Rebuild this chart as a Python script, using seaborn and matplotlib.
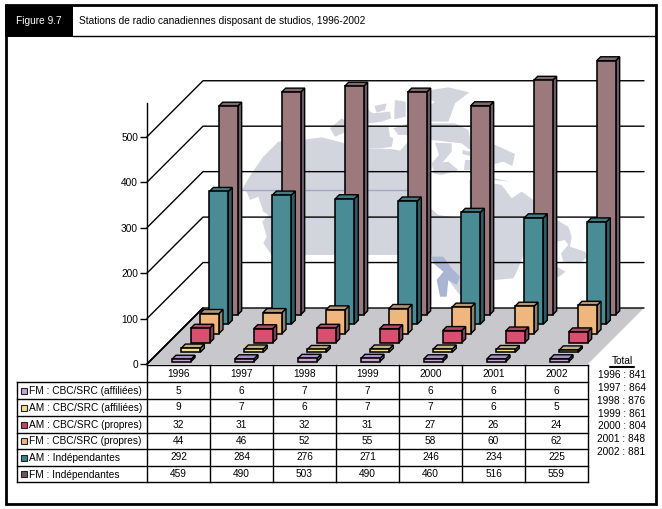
import matplotlib
matplotlib.use("Agg")
import matplotlib.pyplot as plt
from matplotlib.patches import Polygon, Rectangle
import numpy as np
import pandas as pd
import seaborn as sns

# ---------- data ----------
years = ["1996", "1997", "1998", "1999", "2000", "2001", "2002"]
fm_cbc_aff = [5, 6, 7, 7, 6, 6, 6]
am_cbc_aff = [9, 7, 6, 7, 7, 6, 5]
am_cbc_own = [32, 31, 32, 31, 27, 26, 24]
fm_cbc_own = [44, 46, 52, 55, 58, 60, 62]
am_ind = [292, 284, 276, 271, 246, 234, 225]
fm_ind = [459, 490, 503, 490, 460, 516, 559]
series_names = ["FM : CBC/SRC (affiliées)", "AM : CBC/SRC (affiliées)",
                "AM : CBC/SRC (propres)", "FM : CBC/SRC (propres)",
                "AM : Indépendantes", "FM : Indépendantes"]
series_values = [fm_cbc_aff, am_cbc_aff, am_cbc_own, fm_cbc_own, am_ind, fm_ind]
y_ticks = [0, 100, 200, 300, 400, 500]
fig_label = "Figure 9.7"
title = "Stations de radio canadiennes disposant de studios, 1996-2002"

# ---------- style ----------
front_cols = ["#C8A4D4", "#F6E08E", "#D94F70", "#EFB77E", "#4A8C96", "#9C797C"]
top_cols = ["#A88FC8", "#C4B27C", "#B04A64", "#B9966F", "#3F7C84", "#7E6A70"]
side_cols = ["#7A6A90", "#8A8050", "#7A3F58", "#8F7F70", "#2F5C66", "#6A5C64"]
key_cols = ["#C8A4D4", "#F6E08E", "#D0405F", "#EFB77E", "#3F8088", "#6E5A5E"]
sns.set_theme(style="white")
plt.rcParams["font.family"] = ["Liberation Sans", "DejaVu Sans"]
FS = 7.25
W, H = 662, 509
X0, Y0 = 147, 364      # origin of the value axis, pixels
COL = 63               # category column width
DEPTH = 56 / 6         # depth step per series (oblique at 45 degrees)
K = 0.4545             # pixels per value unit
BW, BD, INX, INY = 19, 4, 25, 2.5

fig = plt.figure(figsize=(W / 100, H / 100), dpi=100, facecolor="white")
bg = fig.add_axes([0, 0, 1, 1], zorder=0)
bg.set_xlim(0, W); bg.set_ylim(H, 0); bg.axis("off")
ax = fig.add_axes([0, 0, 1, 1], zorder=1)
ax.patch.set_alpha(0)

# ---------- frame ----------
bg.add_patch(Rectangle((5.5, 5), 650.5, 499, fc="white", ec="black", lw=2))
bg.add_patch(Rectangle((5, 4.5), 68, 32, fc="black", ec="black", lw=0))
bg.plot([73, 656], [36, 36], color="black", lw=1)
bg.text(16, 20.5, fig_label, color="white", fontsize=FS, va="center")
bg.text(79, 20.5, title, color="black", fontsize=FS, va="center")

# ---------- background map (decoration) ----------
MAP = "#D2D4DE"
def mp(pts, ox=235, oy=80):
    return [(x / 3 + ox, y / 3 + oy) for x, y in pts]
land = [
    [(20,330),(50,280),(85,230),(130,185),(200,180),(260,172),(330,190),(400,205),(475,208),(495,212),
     (525,180),(587,180),(587,385),(610,405),(680,415),(705,400),(703,300),(775,295),(775,310),(800,315),
     (830,355),(860,335),(930,385),(930,500),(870,515),(845,575),(835,595),(780,600),(740,590),(690,620),
     (682,655),(640,600),(640,570),(590,540),(590,525),(110,525),(85,490),(95,470),(82,425),(100,405),
     (85,395),(70,350),(45,360),(35,335)],
    [(285,145),(320,115),(335,125),(335,155),(300,170)],
    [(400,85),(405,95),(415,100),(465,95),(468,115),(440,125),(400,130)],
    [(418,78),(455,70),(450,90),(425,98)],
    [(480,60),(512,65),(512,110),(478,118),(478,90)],
    [(400,140),(460,140),(465,170),(475,175),(470,200),(440,205),(400,205)],
    [(475,145),(520,130),(520,165),(490,165)],
    [(587,30),(640,22),(703,37),(660,70),(640,125),(587,125),(587,75),(600,65),(587,60)],
    [(587,130),(660,130),(700,150),(712,205),(770,190),(840,222),(832,258),(805,245),(778,252),(778,295),
     (825,305),(775,300),(712,290),(712,215),(680,190),(587,180)],
    [(600,188),(650,190),(650,215),(625,245),(595,270),(590,250),(612,225)],
    [(600,250),(640,245),(670,270),(620,285),(595,280)],
    [(683,210),(705,215),(705,228),(682,222)],
    [(690,240),(712,240),(712,270),(688,270)],
]
for pts in land:
    bg.add_patch(Polygon(mp(pts), fc=MAP, ec="none", zorder=1))
for pts in ([(170,270),(205,290),(215,320),(210,350),(255,365),(262,380),(240,400),(190,395),(183,370),
             (205,345),(195,330),(170,335)],
            [(170,410),(197,425),(175,442),(170,440)]):
    bg.add_patch(Polygon(mp(pts, 500, 130), fc=MAP, ec="none", zorder=1))
bg.add_patch(Polygon(mp([(590,530),(625,530),(650,565),(675,590),(665,615),(640,600),(635,650),(615,650),
                         (605,600),(625,575),(595,550)]), fc="#A9B5D2", ec="none", zorder=1.1))
bg.plot([x / 3 + 235 for x in (20, 523)], [330 / 3 + 80] * 2, color="#A4A8C0", lw=1, zorder=1.2)

# ---------- floor, wall grid ----------
D = 6 * DEPTH
X1 = X0 + 7 * COL
bg.add_patch(Polygon([(X0, Y0), (X1, Y0), (X1 + D, Y0 - D), (X0 + D, Y0 - D)],
                     fc="#C8C8CC", ec="none", zorder=1.5))
for t in y_ticks:
    y = Y0 - t * K
    bg.plot([X0, X0 + D, X1 + D], [y, y - D, y - D], color="black", lw=1, zorder=1.6)
bg.plot([X0, X0 + D], [Y0, Y0 - D], color="black", lw=1.3, zorder=1.6)

# ---------- bars: back row first, front faces through seaborn ----------
def v2p(py):
    return (Y0 - py) / K
ax_ymin, ax_ymax = v2p(H), v2p(0)
for s in range(5, -1, -1):
    vals = np.array(series_values[s], float)
    off = s * DEPTH
    xc = X0 + np.arange(7) * COL + INX + off + BW / 2
    base = (off + INY) / K
    df = pd.DataFrame({"x": xc, "v": vals})
    z = 10 + (5 - s) * 2
    sns.barplot(data=df, x="x", y="v", native_scale=True, width=BW / COL, bottom=base,
                color=front_cols[s], saturation=1, edgecolor="black", linewidth=1.15,
                errorbar=None, ax=ax, zorder=z + 1)
    for x, v in zip(xc, vals):
        l, r = x - BW / 2, x + BW / 2
        b, t = base, base + v
        dv = BD / K
        ax.add_patch(Polygon([(r, b), (r + BD, b + dv), (r + BD, t + dv), (r, t)],
                             fc=side_cols[s], ec="black", lw=1.0, zorder=z))
        ax.add_patch(Polygon([(l, t), (r, t), (r + BD, t + dv), (l + BD, t + dv)],
                             fc=top_cols[s], ec="black", lw=1.0, zorder=z))

# ---------- value axis ----------
ax.set_xlim(0, W); ax.set_ylim(ax_ymin, ax_ymax)
ax.set_xlabel(""); ax.set_ylabel(""); ax.set_xticks([])
ax.set_yticks(y_ticks)
ax.tick_params(axis="y", left=True, length=5, width=1, color="black", pad=1.5,
               labelsize=FS, labelcolor="black")
for name in ("top", "right", "bottom"):
    ax.spines[name].set_visible(False)
ax.spines["left"].set_position(("data", X0))
ax.spines["left"].set_bounds(0, v2p(103))
ax.spines["left"].set_color("black"); ax.spines["left"].set_linewidth(1)

# ---------- data table ----------
rows_y = [365, 382, 399, 416, 433, 449, 466, 482]
TL = 17
lk = dict(color="black", lw=1, zorder=3, solid_capstyle="projecting")
bg.plot([X0, X1], [rows_y[0]] * 2, **lk)
for y in rows_y[1:]:
    bg.plot([TL, X1], [y, y], **lk)
for i in range(8):
    bg.plot([X0 + i * COL] * 2, [rows_y[0], rows_y[-1]], **lk)
bg.plot([TL, TL], [rows_y[1], rows_y[-1]], **lk)
for i, yr in enumerate(years):
    xc = X0 + (i + .5) * COL
    bg.text(xc, (rows_y[0] + rows_y[1]) / 2 + .5, yr, ha="center", va="center", fontsize=FS, color="black")
for s, name in enumerate(series_names):
    ym = (rows_y[s + 1] + rows_y[s + 2]) / 2
    bg.add_patch(Rectangle((20.7, ym - 3), 6, 6, fc=key_cols[s], ec="#222222", lw=0.8, zorder=3))
    bg.text(29, ym + .5, name, va="center", fontsize=FS, color="black")
    for i, v in enumerate(series_values[s]):
        bg.text(X0 + (i + .5) * COL, ym, str(v), ha="center", va="center", fontsize=FS, color="black")

# ---------- totals ----------
bg.text(622, 361, "Total", ha="center", va="center", fontsize=FS, color="black")
bg.plot([610, 634], [367, 367], color="black", lw=1.5, zorder=3)
totals = np.sum(series_values, axis=0)
for i, (yr, t) in enumerate(zip(years, totals)):
    bg.text(621.5, 375 + i * 12.85, f"{yr} : {t}", ha="center", va="center", fontsize=FS, color="black")

fig.savefig("out.png", dpi=100)
